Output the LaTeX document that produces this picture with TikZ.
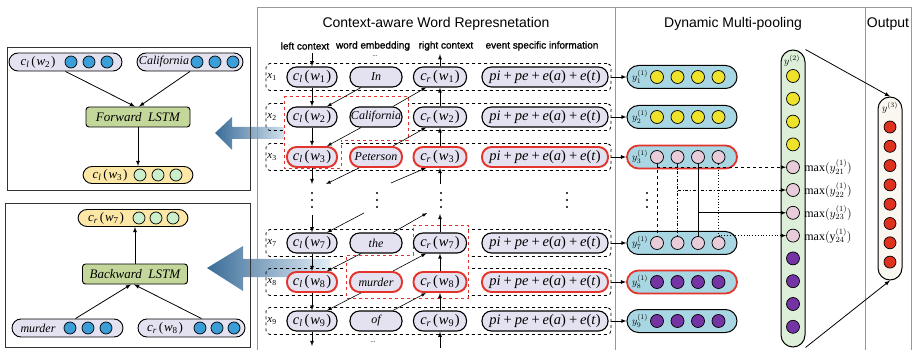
\RequirePackage{fix-cm}
\documentclass[tikz,border=0pt]{standalone}
\usepackage{fontspec}
\setmainfont{Liberation Serif}
\newfontfamily\headfont{Liberation Sans}
\newfontfamily\colfont{Liberation Sans}[FakeBold=1.2]
\usetikzlibrary{positioning}

% context vector c_x(w_n) and the event term, set in the serif italic
\newcommand{\cw}[2]{\textit{c}\textsubscript{\textit{#1}}\kern2pt(\kern0.8pt\textit{w}\textsubscript{#2}\kern0.8pt)}
\newcommand{\pl}{\hspace{3pt}+\hspace{3pt}}
\newcommand{\evsum}{\textit{pi}\pl\textit{pe}\pl\textit{e}(\textit{a})\pl\textit{e}(\textit{t})}

\definecolor{lav}{HTML}{E4E2F0}
\definecolor{hotred}{HTML}{E2342B}
\definecolor{sky}{HTML}{A8D6E2}
\definecolor{yel}{HTML}{EEE22A}
\definecolor{pnk}{HTML}{E9CCDA}
\definecolor{pur}{HTML}{7434A4}
\definecolor{grn}{HTML}{DDEFD9}
\definecolor{cream}{HTML}{FAF7F0}
\definecolor{redball}{HTML}{E0301E}
\definecolor{blu}{HTML}{3C9ED8}
\definecolor{mint}{HTML}{CCEFCB}
\definecolor{lstmgreen}{HTML}{C3D79B}
\definecolor{ylw}{HTML}{FCE7A6}
\definecolor{arrdark}{HTML}{3A6C98}
\definecolor{arrlight}{HTML}{E3EEF6}

\tikzset{
  pill/.style={draw, line width=1.1pt, fill=lav, rounded corners=9.5pt,
    minimum height=20pt, inner sep=0pt, font=\fontsize{14.5}{16}\selectfont},
  wrd/.style={pill, minimum width=52pt, font=\fontsize{12}{14}\selectfont\itshape},
  rowbox/.style={draw, dashed, line width=0.8pt, rounded corners=4pt,
    minimum width=345pt, minimum height=27pt, inner sep=0pt},
  ball/.style={circle, draw, line width=0.7pt, minimum size=13pt, inner sep=0pt},
  sball/.style={ball, minimum size=12pt},
  ybar/.style={draw, line width=1pt, fill=sky, rounded corners=11.5pt,
    minimum width=110pt, minimum height=23pt, inner sep=0pt},
  lpill/.style={draw, line width=0.9pt, fill=lav, rounded corners=9pt,
    minimum height=18pt, inner sep=0pt},
  lstm/.style={draw, line width=0.9pt, fill=lstmgreen, rounded corners=3pt,
    minimum height=20pt, minimum width=104pt, inner sep=0pt,
    font=\fontsize{13}{15}\selectfont\itshape},
  arr/.style={-latex, line width=0.8pt},
  pan/.style={draw=black!40, line width=0.8pt},
  head/.style={font=\headfont\fontsize{14}{16}\selectfont},
  colhead/.style={font=\colfont\fontsize{10}{12}\selectfont},
}

\begin{document}
\begin{tikzpicture}[x=1pt, y=-1pt]
\useasboundingbox (0,0) rectangle (914,350);

% blue pointers from the highlighted blocks to the LSTM panels
\shade[left color=arrdark, right color=arrlight] (215,133) -- (232,117) -- (232,127) -- (292,127) -- (292,139) -- (232,139) -- (232,150) -- cycle;
\shade[left color=arrdark, right color=arrlight] (207,268) -- (243,246) -- (243,259) -- (330,259) -- (330,277) -- (243,277) -- (243,291) -- cycle;

% panels
\draw[pan] (257,350) -- (257,7) -- (911,7) -- (911,350);
\draw[pan] (615,7) -- (615,350);
\draw[pan] (865,7) -- (865,350);
\node[head] (t1) at (436,24) {Context-aware Word Represnetation};
\node[head] (t2) at (733,24) {Dynamic Multi-pooling};
\node[head] (t3) at (888,24) {Output};

\node[colhead] (lctx) at (305,46) {left context};
\node[colhead] (wemb) at (373,46) {word embedding};
\node[colhead] (rctx) at (446,46) {right context};
\node[colhead] (evinf) at (542,46) {event specific information};
\node[font=\scriptsize] (wdots1) at (375,56) {...};
\node[font=\scriptsize] (wdots2) at (373,342) {...};

% word rows
\foreach \i/\yy in {1/77,2/117,3/157,7/243,8/282,9/321}
  \node[rowbox] (row\i) at (438.5,\yy) {};

\draw[hotred, dashed, line width=0.9pt, fill=white] (284,96) -- (408,96) -- (408,140) -- (341,140) -- (341,168) -- (284,168) -- cycle;
\draw[hotred, dashed, line width=0.9pt, fill=white] (413,225) -- (468,225) -- (468,298) -- (346,298) -- (346,255) -- (413,255) -- cycle;

\foreach \i/\yy/\w/\col/\lw in {1/77/In/black/1.1pt, 2/117/California/black/1.1pt, 3/157/Peterson/hotred/1.9pt, 7/243/the/black/1.1pt, 8/282/murder/hotred/1.9pt, 9/321/of/black/1.1pt}{
  \node[font=\fontsize{11}{12}\selectfont] (x\i) at (272,\yy) {\textit{x}\textsubscript{\i}};
  \node[pill, draw=\col, line width=\lw, minimum width=50pt] (cl\i) at (312,\yy) {\cw{l}{\i}};
  \node[wrd, draw=\col, line width=\lw] (we\i) at (376,\yy) {\w};
  \node[pill, draw=\col, line width=\lw, minimum width=53pt] (cr\i) at (440,\yy) {\cw{r}{\i}};
  \node[pill, draw=\col, line width=\lw, minimum width=126pt] (ev\i) at (545,\yy) {\evsum};
}

\coordinate (lA) at (312,184);
\coordinate (lB) at (312,215);
\coordinate (lC) at (312,346);
\coordinate (rA) at (440,184);
\coordinate (rB) at (440,214);
\coordinate (rC) at (440,348);
\coordinate (dA) at (326,184);
\coordinate (dB) at (364,213);
\coordinate (dC) at (391,183);
\coordinate (dD) at (427,213);

% left context runs down, right context runs up
\draw[arr] (lctx.south -| cl1) -- (cl1);
\draw[arr] (cl1) -- (cl2);
\draw[arr] (cl2) -- (cl3);
\draw[arr] (cl3) -- (lA);
\draw[arr] (lB) -- (cl7);
\draw[arr] (cl7) -- (cl8);
\draw[arr] (cl8) -- (cl9);
\draw[arr] (cl9) -- (lC);
\draw[arr] (cr1) -- (cr1 |- rctx.south);
\draw[arr] (cr2) -- (cr1);
\draw[arr] (cr3) -- (cr2);
\draw[arr] (rA) -- (cr3);
\draw[arr] (cr7) -- (rB);
\draw[arr] (cr8) -- (cr7);
\draw[arr] (cr9) -- (cr8);
\draw[arr] (rC) -- (cr9);

\foreach \a/\b in {1/2,2/3,7/8,8/9}
  \draw[arr, line width=0.6pt] ([xshift=-15pt]we\a.south) -- ([xshift=15pt]cl\b.north);
\foreach \a/\b in {2/1,3/2,8/7,9/8}
  \draw[arr, line width=0.6pt] ([xshift=17pt]we\a.north) -- ([xshift=-14pt]cr\b.south);
\draw[arr, line width=0.6pt] ([xshift=-17pt]we3.south) -- (dA);
\draw[arr, line width=0.6pt] (dB) -- ([xshift=15pt]cl7.north);
\draw[arr, line width=0.6pt] (dC) -- ([xshift=-14pt]cr3.south);
\draw[arr, line width=0.6pt] ([xshift=17pt]we7.north) -- (dD);

% vertical ellipses
\foreach \xx in {312,377,441,567,647}
  \foreach \yy in {193,200,207}
    \fill (\xx,\yy) circle (1.1pt);

% first pooling layer
\foreach \i/\yy/\fc/\col/\lw in {1/77/yel/black/1pt, 2/117/yel/black/1pt, 3/157/pnk/hotred/1.8pt, 7/243/pnk/black/1pt, 8/282/pur/hotred/1.8pt, 9/321/pur/black/1pt}{
  \node[ybar, draw=\col, line width=\lw] (y\i) at (682,\yy) {};
  \node[font=\fontsize{10}{12}\selectfont] (yl\i) at (640,\yy) {$y_{\i}^{(1)}$};
  \foreach \k in {1,...,4}
    \node[ball, fill=\fc] (c\i-\k) at (636.5+20.5*\k,\yy) {};
  \draw[arr] (row\i) -- (y\i);
}

\draw[dashed, line width=0.8pt] (c3-1) -- (c7-1);
\draw[dash dot, line width=0.8pt] (c3-2) -- (c7-2);
\draw[line width=0.8pt] (c3-3) -- (c7-3);
\draw[dotted, line width=0.9pt] (c3-4) -- (c7-4);

% second layer column
\node[draw, line width=1pt, fill=grn, rounded corners=12pt, minimum width=24pt, minimum height=297pt, inner sep=0pt] (ycol2) at (793,198.5) {};
\node[font=\fontsize{10}{12}\selectfont] (yt2) at (792,61) {$y^{(2)}$};
\foreach \k/\fc in {1/yel,2/yel,3/yel,4/yel,5/pnk,6/pnk,7/pnk,8/pnk,9/pur,10/pur,11/pur,12/pur}
  \node[ball, fill=\fc] (m\k) at (793,53.2+22.8*\k) {};

\draw[arr, dashed] (c3-1 |- m5) -- (m5);
\draw[arr, dash dot] (c3-2 |- m6) -- (m6);
\draw[arr] (c3-3 |- m7) -- (m7);
\draw[arr, dotted] (c3-4 |- m8) -- (m8);

\node[right=1pt of m5, font=\fontsize{12}{14}\selectfont] (mx1) {$\max(y_{21}^{(1)})$};
\node[right=1pt of m6, font=\fontsize{12}{14}\selectfont] (mx2) {$\max(y_{22}^{(1)})$};
\node[right=1pt of m7, font=\fontsize{12}{14}\selectfont] (mx3) {$\max(y_{23}^{(1)})$};
\node[right=1pt of m8, font=\fontsize{12}{14}\selectfont] (mx4) {$\max(\mathrm{y}_{24}^{(1)})$};

% output column
\node[draw, line width=1pt, fill=cream, rounded corners=12pt, minimum width=24pt, minimum height=183pt, inner sep=0pt] (ycol3) at (890,188.5) {};
\node[font=\fontsize{10}{12}\selectfont] (yt3) at (890,108) {$y^{(3)}$};
\foreach \k in {1,...,8}
  \node[sball, fill=redball] (o\k) at (890,107.7+19.3*\k) {};
\draw[arr] (ycol2.north east) -- (ycol3.north);
\draw[arr] (ycol2.south east) -- (ycol3.south);

% forward LSTM panel
\draw[line width=0.8pt, black!80] (7,47) rectangle (250,190);
\node[lpill, minimum width=113pt] (fin1) at (65.5,62) {};
\node[font=\fontsize{13}{15}\selectfont] (fin1t) at (38,62) {\cw{l}{2}};
\foreach \k in {1,2,3}
  \node[sball, fill=blu] (fa\k) at (53+18*\k,62) {};
\node[lpill, minimum width=106pt] (fin2) at (190,62) {};
\node[font=\fontsize{12}{14}\selectfont\itshape] (fin2t) at (164,62) {California};
\foreach \k in {1,2,3}
  \node[sball, fill=blu] (fb\k) at (179+18*\k,62) {};
\node[lstm] (fwd) at (138,117) {Forward\ \ LSTM};
\node[lpill, fill=ylw, minimum width=110pt, minimum height=17pt] (fout) at (138,175) {};
\node[font=\fontsize{13}{15}\selectfont] (foutt) at (110,175) {\cw{l}{3}};
\foreach \k in {1,2,3}
  \node[sball, fill=mint] (fc\k) at (122+18*\k,175) {};
\draw[arr] (fin1.south) -- ([xshift=-3pt]fwd.north);
\draw[arr] (fin2.south) -- ([xshift=1pt]fwd.north);
\draw[arr] (fwd) -- (fout);

% backward LSTM panel
\draw[line width=0.8pt, black!80] (5,203) rectangle (250,347);
\node[lpill, fill=ylw, minimum width=110pt, minimum height=17pt] (bout) at (133,218) {};
\node[font=\fontsize{13}{15}\selectfont] (boutt) at (106,218) {\cw{r}{7}};
\foreach \k in {1,2,3}
  \node[sball, fill=mint] (bc\k) at (122+17*\k,218) {};
\node[lstm, minimum width=105pt] (bwd) at (135,274) {Backward\ \ LSTM};
\node[lpill, minimum width=111pt] (bin1) at (67.5,328) {};
\node[font=\fontsize{12}{14}\selectfont\itshape] (bin1t) at (38,328) {murder};
\foreach \k in {1,2,3}
  \node[sball, fill=blu] (ba\k) at (52+18*\k,328) {};
\node[lpill, minimum width=107pt] (bin2) at (191.5,328) {};
\node[font=\fontsize{13}{15}\selectfont] (bin2t) at (165,328) {\cw{r}{8}};
\foreach \k in {1,2,3}
  \node[sball, fill=blu] (bb\k) at (183+17*\k,328) {};
\draw[arr] ([xshift=8pt]bin1.north) -- ([xshift=-4pt]bwd.south);
\draw[arr] ([xshift=10pt]bin2.north) -- ([xshift=-1pt]bwd.south);
\draw[arr] (bwd.north) -- (bwd.north |- bout.south);
\end{tikzpicture}
\end{document}
